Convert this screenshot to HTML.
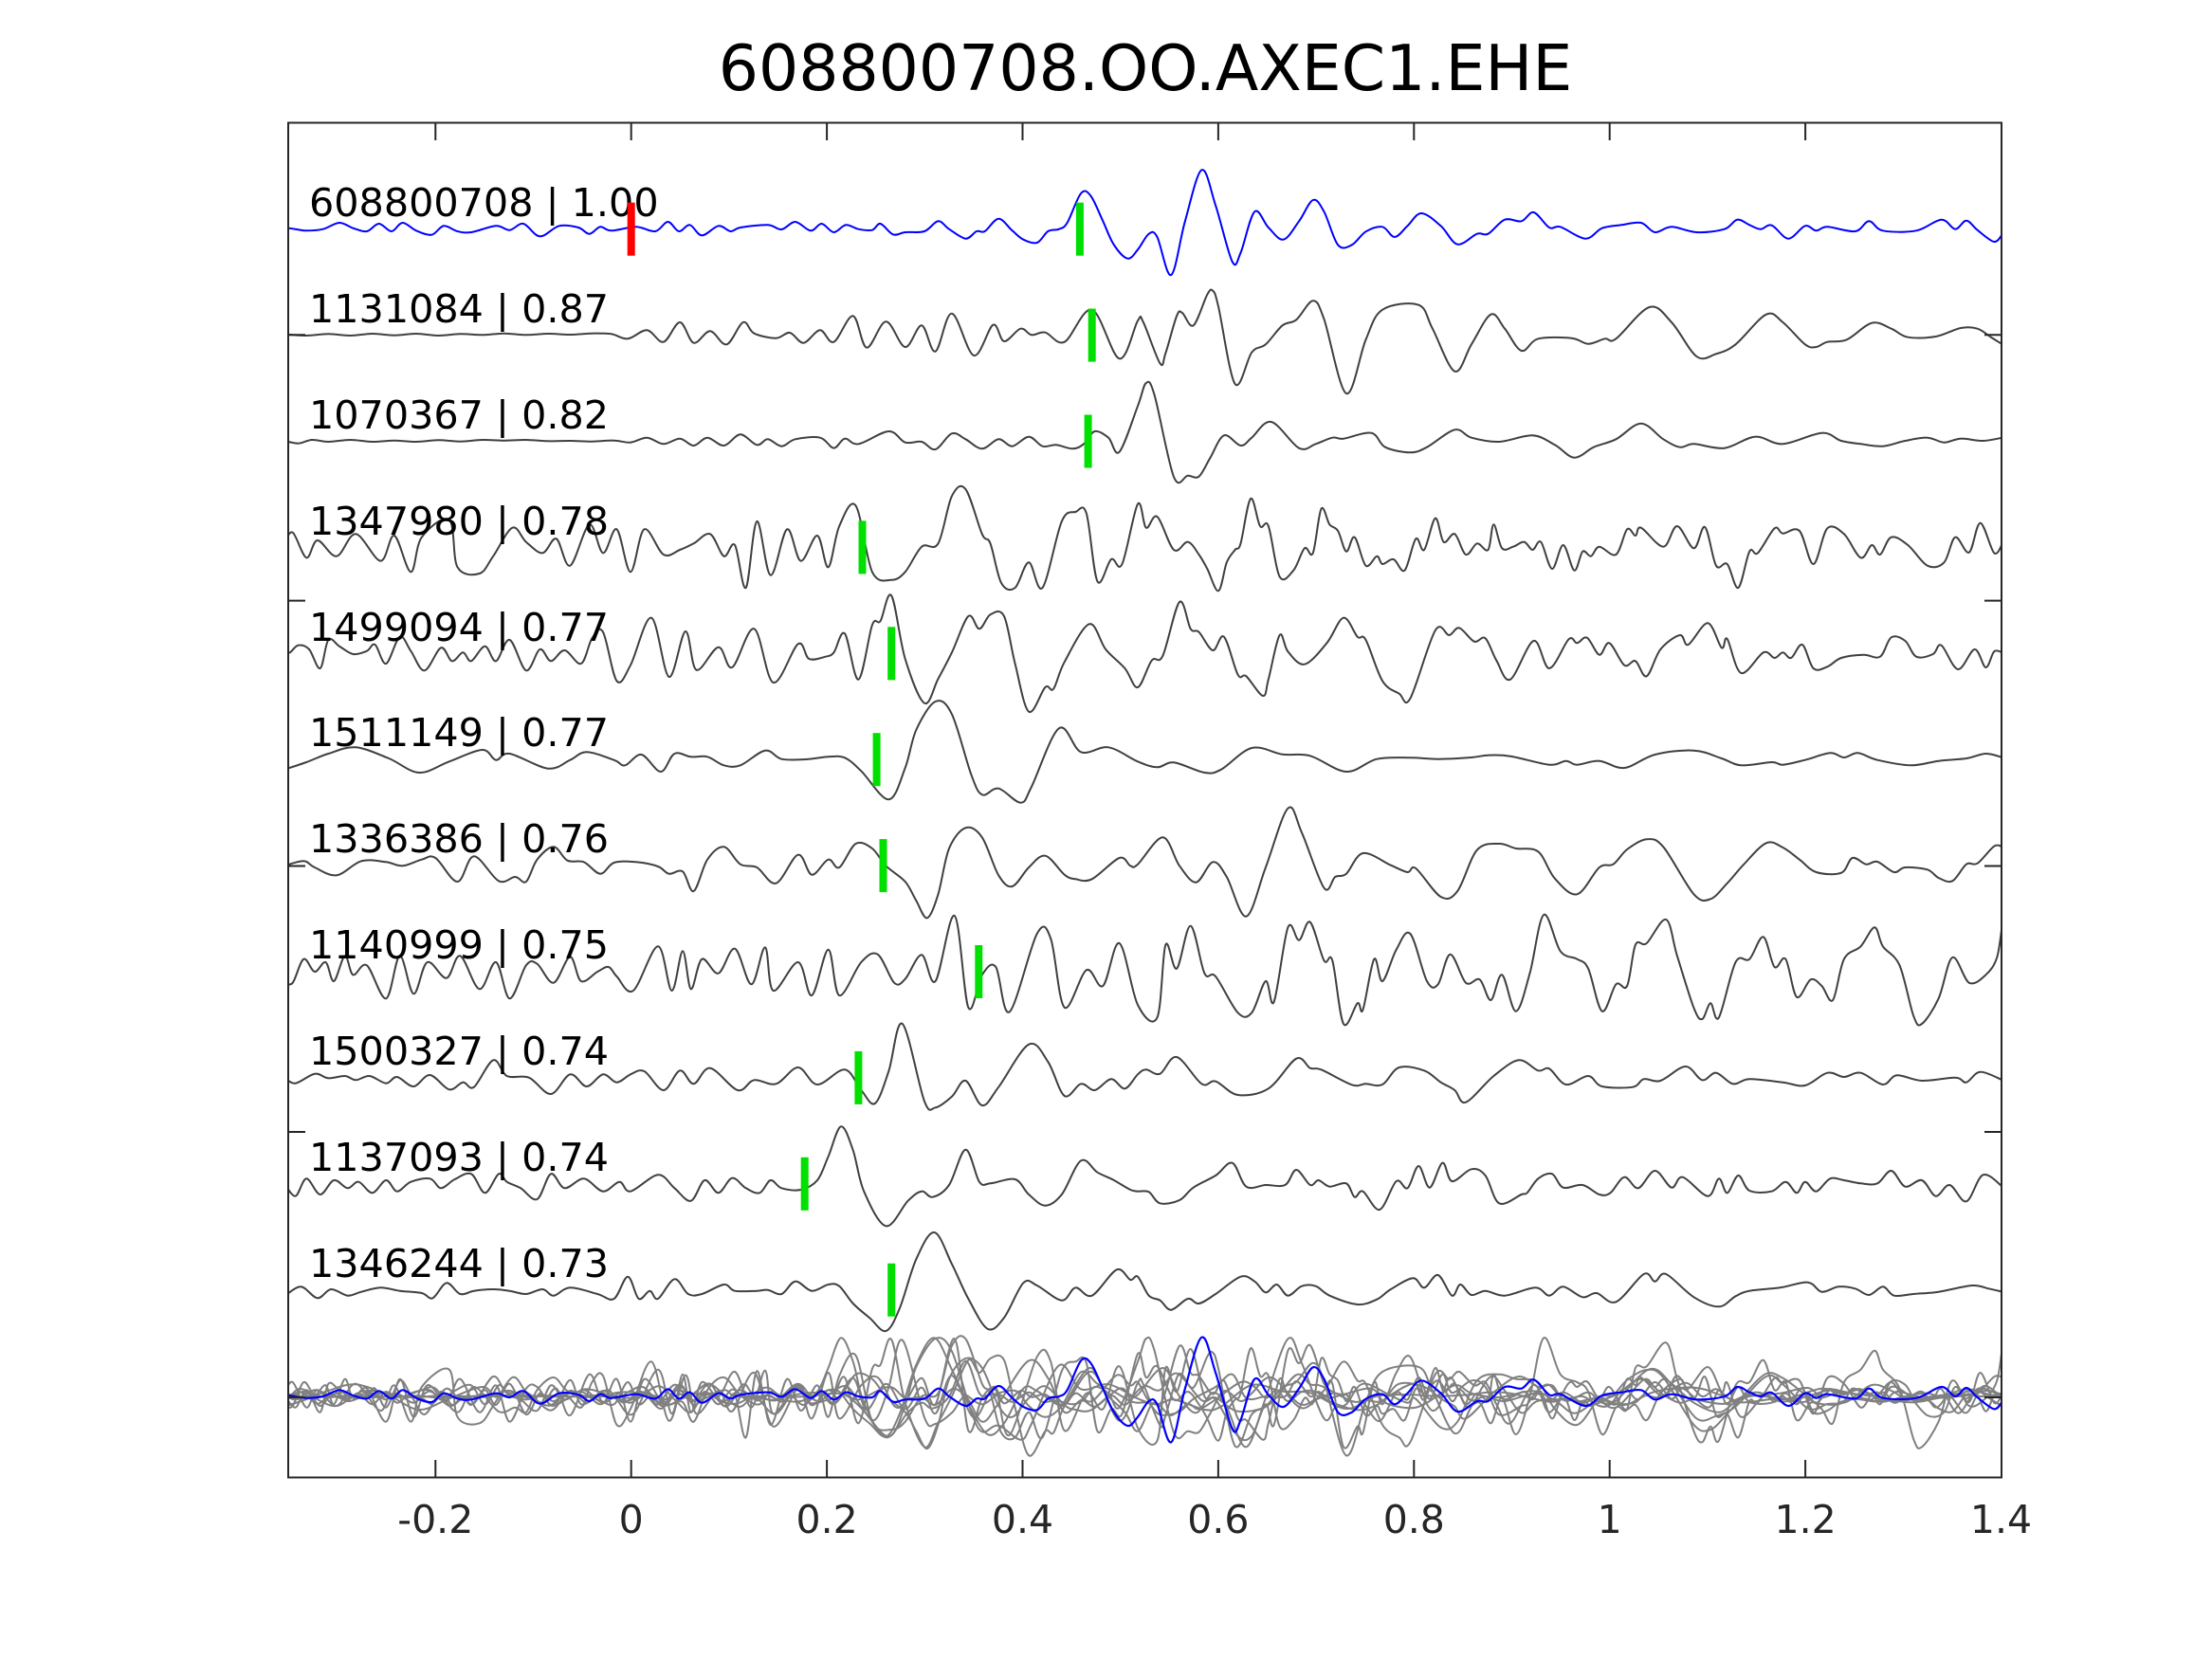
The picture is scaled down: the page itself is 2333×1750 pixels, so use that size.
<!DOCTYPE html>
<html>
<head>
<meta charset="utf-8">
<style>
html,body{margin:0;padding:0;background:#fff;}
svg{display:block;}
text{font-family:"DejaVu Sans","Liberation Sans",sans-serif;}
</style>
</head>
<body>
<svg id="s" xmlns="http://www.w3.org/2000/svg" width="2333" height="1750" viewBox="0 0 2333 1750">
<rect x="0" y="0" width="2333" height="1750" fill="#fff"/>
<defs>
<clipPath id="ax"><rect x="304" y="129.5" width="1807" height="1429"/></clipPath>
</defs>
<text x="1208" y="95" font-size="66.4" text-anchor="middle" fill="#000">608800708.OO.AXEC1.EHE</text>
<g id="tr" clip-path="url(#ax)" fill="none" stroke-linejoin="round" stroke-linecap="round"></g>
<g font-size="41.3" fill="#000">
<text x="326" y="228">608800708 | 1.00</text>
<text x="326" y="340">1131084 | 0.87</text>
<text x="326" y="452">1070367 | 0.82</text>
<text x="326" y="564">1347980 | 0.78</text>
<text x="326" y="676">1499094 | 0.77</text>
<text x="326" y="787">1511149 | 0.77</text>
<text x="326" y="899">1336386 | 0.76</text>
<text x="326" y="1011">1140999 | 0.75</text>
<text x="326" y="1123">1500327 | 0.74</text>
<text x="326" y="1235">1137093 | 0.74</text>
<text x="326" y="1347">1346244 | 0.73</text>
</g>
<g id="mk">
<rect x="661.7" y="213.7" width="8" height="56" fill="#ff0000"/>
<rect x="1134.9" y="213.7" width="8" height="56" fill="#00e000"/>
<rect x="1147.7" y="325.6" width="8" height="56" fill="#00e000"/>
<rect x="1143.6" y="437.5" width="8" height="56" fill="#00e000"/>
<rect x="905.5" y="549.4" width="8" height="56" fill="#00e000"/>
<rect x="936.2" y="661.3" width="8" height="56" fill="#00e000"/>
<rect x="920.6" y="773.2" width="8" height="56" fill="#00e000"/>
<rect x="927.5" y="885.1" width="8" height="56" fill="#00e000"/>
<rect x="1028.3" y="997.0" width="8" height="56" fill="#00e000"/>
<rect x="901.4" y="1108.9" width="8" height="56" fill="#00e000"/>
<rect x="844.7" y="1220.8" width="8" height="56" fill="#00e000"/>
<rect x="936.2" y="1332.7" width="8" height="56" fill="#00e000"/>
</g>
<g stroke="#262626" stroke-width="2" fill="none">
<rect x="304" y="129.5" width="1807" height="1429"/>
<path d="M459.3 1558.5V1540M665.7 1558.5V1540M872.1 1558.5V1540M1078.5 1558.5V1540M1284.9 1558.5V1540M1491.3 1558.5V1540M1697.7 1558.5V1540M1904.1 1558.5V1540
M459.3 129.5V148M665.7 129.5V148M872.1 129.5V148M1078.5 129.5V148M1284.9 129.5V148M1491.3 129.5V148M1697.7 129.5V148M1904.1 129.5V148
M304 353.3H322M304 633.6H322M304 913.5H322M304 1194H322M304 1474H322
M2111 353.3H2093M2111 633.6H2093M2111 913.5H2093M2111 1194H2093M2111 1474H2093"/>
</g>
<g font-size="41" fill="#262626" text-anchor="middle">
<text x="459.3" y="1617">-0.2</text>
<text x="665.7" y="1617">0</text>
<text x="872.1" y="1617">0.2</text>
<text x="1078.5" y="1617">0.4</text>
<text x="1284.9" y="1617">0.6</text>
<text x="1491.3" y="1617">0.8</text>
<text x="1697.7" y="1617">1</text>
<text x="1904.1" y="1617">1.2</text>
<text x="2110.5" y="1617">1.4</text>
</g>
</svg>
<script>
(function(){
var NS='http://www.w3.org/2000/svg';
var Z={tl:[300,150,1.726],tr:[1200,150,1.705],ml:[300,610,1.726],mr:[1200,610,1.705],bl:[300,1080,1.726],br:[1200,1080,1.705]};
var T=[
{l:'tl',r:'tr',L:[0,270,20,275,40,280,70,275,100,255,125,272,150,282,172,258,195,282,215,255,240,280,268,293,290,265,315,282,340,285,385,265,410,278,435,258,465,298,500,265,535,270,555,290,575,268,595,280,640,268,675,282,698,252,718,282,738,262,760,295,790,265,812,282,830,270,880,262,905,276,930,252,958,280,978,258,1000,285,1022,262,1045,275,1070,278,1085,258,1108,292,1130,285,1165,282,1190,250,1210,275,1240,305,1260,282,1275,282,1300,242,1325,280,1345,308,1370,318,1390,282,1410,275,1425,255,1450,162,1468,170,1490,250,1510,325,1535,368,1553,320],
R:[0,340,20,290,35,300,60,420,85,250,115,88,140,200,170,378,185,350,210,220,235,270,262,308,290,250,315,183,335,220,360,325,385,325,410,283,440,268,462,300,485,265,510,225,545,265,575,323,610,290,630,290,660,245,690,250,712,222,740,270,760,268,805,305,835,272,870,262,905,255,930,285,960,268,1005,285,1055,275,1078,245,1100,262,1120,275,1140,263,1170,305,1200,265,1220,280,1240,268,1290,282,1315,250,1340,280,1400,280,1445,245,1470,275,1490,248,1510,278,1540,315,1555,290]},
{l:'tl',r:'tr',L:[0,608,40,612,80,607,120,612,160,606,200,611,240,606,280,612,320,607,360,610,400,605,440,610,480,606,520,609,560,605,595,607,625,622,660,595,690,632,720,570,745,635,775,598,805,640,835,570,855,605,895,620,920,603,945,635,975,595,1000,632,1035,550,1060,650,1095,568,1130,648,1160,580,1185,662,1215,542,1255,675,1290,578,1310,630,1340,590,1360,610,1385,602,1420,632,1470,530,1520,685,1550,575],
R:[0,565,10,570,40,700,50,668,70,550,80,540,100,580,125,482,135,470,145,520,175,765,205,665,230,640,260,580,285,562,315,502,335,560,375,795,410,625,440,530,505,515,530,590,570,725,600,640,635,545,660,590,690,660,720,622,780,620,810,638,840,622,860,622,920,522,960,570,1005,678,1040,670,1075,640,1130,545,1160,570,1200,640,1220,648,1240,632,1275,625,1320,572,1355,590,1385,617,1435,615,1480,588,1510,590,1535,618,1555,640]},
{l:'tl',r:'tr',L:[0,945,25,953,50,942,80,948,120,942,160,948,200,944,240,948,280,943,320,947,360,942,400,944,440,942,480,946,520,945,560,947,600,944,630,950,660,935,690,955,720,938,745,960,770,935,800,960,830,925,860,958,880,940,905,962,930,940,975,935,1000,968,1020,938,1045,955,1100,915,1130,950,1160,948,1185,972,1215,922,1240,940,1270,970,1300,940,1325,962,1355,932,1380,962,1405,958,1435,970,1455,955,1475,915,1500,935,1520,980,1545,850],
R:[0,835,15,762,30,800,65,1060,90,1055,110,1058,130,1000,155,928,185,960,205,935,240,885,290,968,320,955,350,935,370,938,420,920,445,965,490,982,520,965,570,910,600,935,650,948,710,928,750,958,785,998,820,965,860,940,905,890,945,940,975,965,1000,955,1055,968,1110,932,1160,955,1230,920,1265,945,1300,955,1340,962,1380,945,1420,935,1450,950,1480,938,1520,945,1555,935]},
{l:'tl',r:'tr',L:[0,1270,15,1235,40,1315,60,1260,95,1310,130,1240,175,1325,200,1245,230,1360,250,1250,300,1195,315,1345,355,1365,380,1310,415,1220,440,1265,470,1300,495,1255,520,1340,555,1210,580,1300,605,1225,630,1360,655,1225,690,1305,720,1290,745,1270,775,1240,800,1310,820,1275,840,1410,860,1200,885,1370,915,1225,940,1325,970,1245,990,1345,1010,1215,1040,1150,1070,1360,1105,1385,1130,1360,1160,1280,1190,1270,1215,1120,1240,1098,1270,1240,1285,1270,1305,1395,1330,1410,1355,1330,1380,1410,1415,1200,1440,1170,1460,1175,1480,1390,1505,1320,1525,1335,1550,1150],
R:[0,1145,15,1220,35,1185,65,1290,90,1265,110,1305,125,1350,145,1420,160,1330,175,1290,185,1270,203,1128,220,1215,235,1215,255,1375,280,1355,300,1285,315,1300,330,1160,345,1210,360,1230,375,1295,390,1250,410,1340,430,1310,440,1335,460,1320,480,1355,500,1255,515,1290,535,1190,550,1265,570,1240,590,1305,610,1270,630,1290,640,1210,655,1285,675,1280,695,1265,710,1290,725,1265,745,1350,765,1275,785,1355,800,1295,815,1310,830,1280,860,1305,880,1225,895,1245,905,1220,945,1280,970,1215,1000,1285,1020,1218,1040,1340,1060,1335,1080,1410,1100,1295,1115,1300,1145,1222,1160,1238,1190,1230,1215,1335,1240,1222,1270,1240,1300,1315,1320,1275,1335,1305,1355,1250,1385,1275,1420,1340,1450,1330,1470,1250,1495,1298,1515,1205,1540,1300,1555,1270]},
{l:'ml',r:'mr',L:[0,235,10,235,25,212,45,225,65,285,80,195,100,215,125,240,150,230,165,210,185,270,210,185,230,230,255,292,285,220,305,262,325,235,340,262,365,215,385,262,410,195,440,292,465,225,485,262,510,228,540,270,560,190,580,170,605,325,630,275,668,125,700,312,730,168,750,290,790,218,815,282,855,160,890,330,935,208,955,255,985,248,1000,235,1020,175,1045,320,1070,148,1085,135,1105,55,1130,255,1165,395,1190,318,1215,235,1245,120,1265,160,1285,115,1310,120,1330,270,1355,422,1385,345,1400,350,1420,265,1465,145,1495,225,1530,285,1550,345],
R:[0,345,25,260,45,245,75,75,95,160,110,170,135,228,155,185,180,305,195,310,225,372,235,320,255,180,270,232,300,272,340,205,370,125,395,185,410,195,440,325,470,365,490,380,535,165,560,180,578,157,605,200,625,190,645,260,670,320,712,198,740,285,775,193,790,205,808,188,830,242,848,205,875,275,895,262,915,310,940,225,975,180,990,210,1025,142,1050,220,1060,192,1085,300,1125,235,1145,252,1160,235,1175,252,1195,210,1215,285,1240,280,1265,252,1305,242,1335,248,1355,187,1380,198,1400,248,1430,240,1445,212,1475,288,1505,225,1525,282,1540,232,1555,235]},
{l:'ml',r:'mr',L:[0,605,40,582,80,555,130,535,190,570,245,615,300,580,360,543,385,575,410,555,480,602,520,575,550,550,600,575,620,592,650,558,685,612,710,555,740,565,770,565,800,592,830,592,875,545,905,572,950,573,990,565,1020,568,1050,610,1100,700,1130,600,1150,480,1185,390,1215,430,1250,620,1270,685,1300,665,1340,710,1360,660,1410,475,1450,550,1500,535,1550,590],
R:[0,580,35,598,65,583,120,615,150,605,205,537,260,557,310,562,375,612,430,572,490,568,540,572,600,567,630,560,670,563,740,590,770,578,790,590,830,578,875,600,930,558,1000,545,1050,570,1085,592,1140,582,1160,590,1200,575,1245,553,1270,567,1295,553,1330,575,1390,592,1440,578,1490,570,1525,555,1555,567]},
{l:'ml',r:'mr',L:[0,910,35,895,55,915,95,940,140,895,185,898,215,910,250,890,275,885,315,960,345,880,390,958,420,945,440,960,460,890,490,850,515,893,545,898,575,935,600,900,640,898,680,912,700,935,725,928,745,990,770,890,800,850,830,905,860,915,895,965,935,875,960,938,990,890,1010,915,1040,840,1070,855,1095,910,1130,960,1150,1020,1170,1075,1190,1000,1210,855,1240,790,1270,820,1300,940,1325,975,1355,915,1385,878,1420,938,1440,952,1470,952,1520,885,1540,910,1550,890],
R:[0,905,45,820,75,910,105,962,135,898,160,945,195,1070,230,915,270,728,295,805,335,980,355,945,375,935,405,870,455,908,485,930,500,918,545,1008,575,990,610,860,650,840,680,855,720,865,750,950,790,1000,830,915,855,905,880,858,915,826,945,850,1000,1000,1030,1015,1060,965,1090,905,1130,838,1160,852,1190,890,1220,930,1265,932,1285,885,1310,905,1330,897,1360,930,1380,915,1420,922,1440,948,1465,958,1490,905,1510,902,1540,848,1555,850]},
{l:'ml',r:'mr',L:[0,1280,15,1280,35,1205,55,1245,75,1215,90,1275,110,1195,125,1255,150,1225,185,1330,210,1195,235,1315,260,1215,295,1265,320,1195,355,1300,385,1215,410,1330,440,1225,460,1220,490,1280,520,1198,540,1275,570,1245,590,1230,605,1260,635,1305,680,1165,705,1305,725,1180,740,1300,760,1205,790,1250,820,1172,850,1285,875,1168,890,1305,935,1215,960,1320,990,1175,1010,1320,1050,1215,1080,1190,1110,1280,1130,1268,1160,1192,1185,1275,1220,1068,1245,1358,1270,1255,1295,1230,1320,1372,1370,1125,1395,1140,1420,1358,1460,1240,1490,1290,1520,1155,1545,1165],
R:[0,1350,35,1390,50,1160,70,1235,95,1100,120,1250,140,1260,180,1375,205,1375,230,1275,245,1340,270,1105,290,1145,310,1088,335,1210,350,1210,370,1410,395,1345,405,1365,425,1205,440,1275,465,1175,490,1125,520,1275,540,1285,562,1190,590,1280,615,1270,635,1335,655,1255,680,1370,705,1250,730,1065,760,1180,790,1205,810,1235,835,1370,860,1285,880,1290,895,1160,915,1155,950,1080,970,1195,1000,1360,1015,1395,1030,1345,1045,1390,1075,1215,1100,1205,1125,1135,1145,1230,1165,1205,1185,1325,1210,1270,1230,1290,1250,1335,1270,1205,1300,1165,1325,1105,1340,1165,1370,1225,1395,1385,1410,1410,1440,1330,1465,1200,1495,1280,1525,1255,1545,1200,1555,1090]},
{l:'bl',r:'br',L:[0,170,20,188,55,158,80,172,110,165,130,178,155,165,185,188,205,168,235,198,265,162,300,208,325,185,345,200,380,115,405,165,445,170,485,222,520,160,550,198,580,160,605,185,630,160,655,150,690,210,720,148,745,190,775,140,825,210,855,178,895,190,935,138,970,192,1020,145,1050,210,1075,252,1100,150,1125,0,1165,245,1185,265,1215,230,1240,180,1270,258,1300,200,1355,65,1390,120,1420,228,1450,190,1475,210,1505,175,1530,205,1550,150],
R:[0,160,15,145,40,158,70,105,115,190,140,182,180,225,235,205,285,110,310,140,330,145,385,193,410,190,440,192,470,138,515,148,545,185,570,210,590,248,640,165,685,115,720,148,740,142,770,192,810,165,835,198,890,200,910,175,940,180,985,135,1015,178,1040,155,1070,190,1100,175,1160,185,1200,195,1240,155,1270,168,1300,155,1340,192,1365,163,1410,180,1470,170,1490,185,1515,152,1555,178]},
{l:'bl',r:'br',L:[0,505,20,545,40,490,65,540,90,495,115,520,135,500,160,535,185,495,205,530,230,500,265,490,285,520,310,492,340,475,365,535,390,475,405,500,430,520,460,555,485,475,510,520,545,490,580,530,610,500,630,530,680,478,710,520,740,560,765,495,790,535,815,488,840,520,865,535,885,495,905,520,940,525,970,495,990,420,1013,325,1035,400,1055,530,1095,640,1135,560,1160,530,1180,548,1210,510,1240,398,1265,500,1285,505,1330,492,1355,540,1385,575,1415,540,1450,433,1480,470,1510,495,1540,525,1550,530],
R:[0,530,20,532,40,568,75,558,100,518,140,480,170,440,195,515,230,510,265,510,285,462,310,510,325,495,345,515,375,505,390,548,405,530,435,588,465,498,485,520,505,450,525,518,548,440,565,498,600,460,625,480,650,568,690,540,700,535,720,490,745,475,765,518,800,510,830,540,850,535,875,485,900,520,930,465,960,518,980,485,1025,545,1045,490,1060,535,1080,480,1100,528,1140,530,1165,500,1185,535,1200,500,1220,530,1245,490,1270,495,1300,505,1330,505,1355,465,1380,515,1410,495,1435,545,1460,510,1490,562,1520,478,1555,515]},
{l:'bl',r:'br',L:[0,862,30,832,60,868,85,840,115,860,140,848,175,835,210,845,250,852,270,868,295,820,320,855,345,845,380,840,410,845,440,855,470,840,490,860,520,835,570,855,600,870,625,800,645,870,665,845,680,870,710,808,735,855,760,855,800,825,820,845,860,845,880,842,905,855,930,815,960,845,990,825,1010,830,1035,885,1065,930,1095,972,1120,900,1150,745,1183,660,1215,760,1245,870,1280,965,1310,930,1345,820,1370,828,1415,875,1440,835,1470,860,1515,778,1540,810,1550,800],
R:[0,800,20,860,40,875,60,905,90,870,110,885,140,855,185,800,210,815,230,850,250,825,270,860,295,830,320,830,345,860,395,888,430,872,455,840,495,805,515,835,540,795,565,860,580,825,600,858,625,845,660,860,715,835,740,860,765,832,800,865,825,852,860,880,910,792,930,815,950,792,1000,865,1045,895,1075,862,1100,845,1155,835,1205,818,1230,848,1260,832,1290,838,1315,858,1340,832,1360,860,1395,855,1440,848,1500,828,1530,838,1555,848]}
];
function pts(t){
  var a=[],z=Z[t.l],i,x;
  for(i=0;i<t.L.length;i+=2){x=z[0]+t.L[i]/z[2];if(x<1194)a.push([x,z[1]+t.L[i+1]/3]);}
  z=Z[t.r];
  for(i=0;i<t.R.length;i+=2){a.push([z[0]+t.R[i]/z[2],z[1]+t.R[i+1]/3]);}
  return a;
}
function med(a){var s=a.map(function(p){return p[1];}).sort(function(x,y){return x-y;});return s[s.length>>1];}
function f(v){return v.toFixed(1);}
function path(p){
  var d='M'+f(p[0][0])+' '+f(p[0][1]),n=p.length,i;
  for(i=0;i<n-1;i++){
    var p0=p[i>0?i-1:0],p1=p[i],p2=p[i+1],p3=p[i+2<n?i+2:i+1];
    var c1x=p1[0]+(p2[0]-p0[0])/6,c1y=p1[1]+(p2[1]-p0[1])/6;
    var c2x=p2[0]-(p3[0]-p1[0])/6,c2y=p2[1]-(p3[1]-p1[1])/6;
    if(c1x<p1[0])c1x=p1[0]; if(c2x>p2[0])c2x=p2[0];
    d+=' C'+f(c1x)+' '+f(c1y)+' '+f(c2x)+' '+f(c2y)+' '+f(p2[0])+' '+f(p2[1]);
  }
  return d;
}
var g=document.getElementById('tr');
function add(d,col,w){var e=document.createElementNS(NS,'path');e.setAttribute('d',d);e.setAttribute('stroke',col);e.setAttribute('stroke-width',w);g.appendChild(e);}
var all=T.map(pts);
var SB=1473;
all.forEach(function(p,i){add(path(p),i===0?'#0000ff':'#404040',2);});
for(var i=1;i<all.length;i++){
  var m=med(all[i]);
  add(path(all[i].map(function(q){return [q[0],q[1]-m+SB];})),'#808080',2);
}
var m0=med(all[0]);
add(path(all[0].map(function(q){return [q[0],q[1]-m0+SB];})),'#0000ff',2.2);
})();
</script>
</body>
</html>
